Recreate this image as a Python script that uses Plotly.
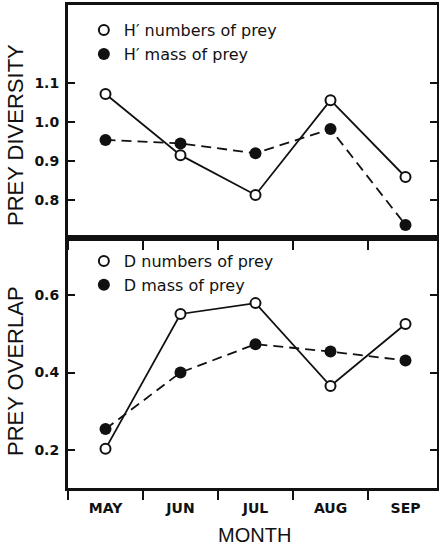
import plotly.graph_objects as go

months = ["MAY", "JUN", "JUL", "AUG", "SEP"]
h_numbers = [1.072, 0.915, 0.813, 1.056, 0.859]
h_mass = [0.954, 0.945, 0.920, 0.982, 0.736]
d_numbers = [0.203, 0.551, 0.579, 0.365, 0.525]
d_mass = [0.254, 0.400, 0.473, 0.454, 0.431]

div_ticks = [0.8, 0.9, 1.0, 1.1]
ovl_ticks = [0.2, 0.4, 0.6]

BLACK = "#111111"
LEG_FONT = dict(family="DejaVu Sans", size=16, color=BLACK)
TICK_FONT = dict(family="DejaVu Sans", size=14, color=BLACK, weight="bold")
TITLE_FONT = dict(family="Liberation Sans", size=22, color=BLACK)

open_marker = dict(symbol="circle", size=10, color="white", line=dict(color=BLACK, width=2))
fill_marker = dict(symbol="circle", size=12, color=BLACK, line=dict(color=BLACK, width=0))

fig = go.Figure()

def add_series(x, y, dash, marker, name, xa, ya, legend):
    fig.add_trace(go.Scatter(x=x, y=y, mode="lines", xaxis=xa, yaxis=ya,
                             line=dict(color=BLACK, width=1.8, dash=dash),
                             showlegend=False, hoverinfo="skip"))
    fig.add_trace(go.Scatter(x=x, y=y, mode="markers", xaxis=xa, yaxis=ya,
                             marker=marker, name=name, legend=legend))

add_series(months, h_numbers, "solid", open_marker, "H′ numbers of prey", "x", "y", "legend")
add_series(months, h_mass, "10px,6px", fill_marker, "H′ mass of prey", "x", "y", "legend")
add_series(months, d_numbers, "solid", open_marker, "D numbers of prey", "x2", "y2", "legend2")
add_series(months, d_mass, "10px,6px", fill_marker, "D mass of prey", "x2", "y2", "legend2")

split = (488 - 238) / 483

xcommon = dict(type="category", categoryorder="array", categoryarray=months,
               range=[-0.5, 4.42], tickson="boundaries", ticks="outside",
               ticklen=9, tickwidth=2, tickcolor=BLACK, showline=True,
               linecolor=BLACK, linewidth=2.5, mirror=True, showgrid=False,
               zeroline=False, tickfont=TICK_FONT, automargin=False)
ycommon = dict(ticks="inside", ticklen=7, tickwidth=2, tickcolor=BLACK,
               showline=True, linecolor=BLACK, linewidth=3, mirror="ticks",
               showgrid=False, zeroline=False, tickfont=TICK_FONT,
               tickformat=".1f", ticklabelstandoff=3, automargin=False)

fig.update_layout(
    width=439, height=548,
    margin=dict(l=68, r=2, t=5, b=60, autoexpand=False),
    paper_bgcolor="white", plot_bgcolor="white",
    xaxis=dict(xcommon, anchor="y", domain=[0, 1], showticklabels=False),
    yaxis=dict(ycommon, anchor="x", domain=[split, 1], range=[0.7026, 1.30],
               tickvals=div_ticks),
    xaxis2=dict(xcommon, anchor="y2", domain=[0, 1], showticklabels=True,
                ticklabelstandoff=5),
    yaxis2=dict(ycommon, anchor="x2", domain=[0, split], range=[0.102, 0.747],
                tickvals=ovl_ticks),
    legend=dict(x=0.043, xanchor="left", y=0.983, yanchor="top",
                font=LEG_FONT, bgcolor="rgba(0,0,0,0)"),
    legend2=dict(x=0.043, xanchor="left", y=0.505, yanchor="top",
                 font=LEG_FONT, bgcolor="rgba(0,0,0,0)"),
    annotations=[
        dict(text="PREY DIVERSITY", xref="paper", yref="paper", x=0, xshift=-53,
             y=1 - (135 - 5) / 483, textangle=-90, showarrow=False,
             xanchor="center", yanchor="middle", font=TITLE_FONT),
        dict(text="PREY OVERLAP", xref="paper", yref="paper", x=0, xshift=-53,
             y=1 - (371 - 5) / 483, textangle=-90, showarrow=False,
             xanchor="center", yanchor="middle", font=TITLE_FONT),
        dict(text="MONTH", xref="paper", yref="paper", x=0.5, xshift=2,
             y=(488 - 535) / 483, showarrow=False, xanchor="center",
             yanchor="middle", font=dict(family="Liberation Sans", size=20, color=BLACK)),
    ],
)

fig.write_html("out.html", config={"displayModeBar": False},
               post_script="document.body.style.margin='0';")
